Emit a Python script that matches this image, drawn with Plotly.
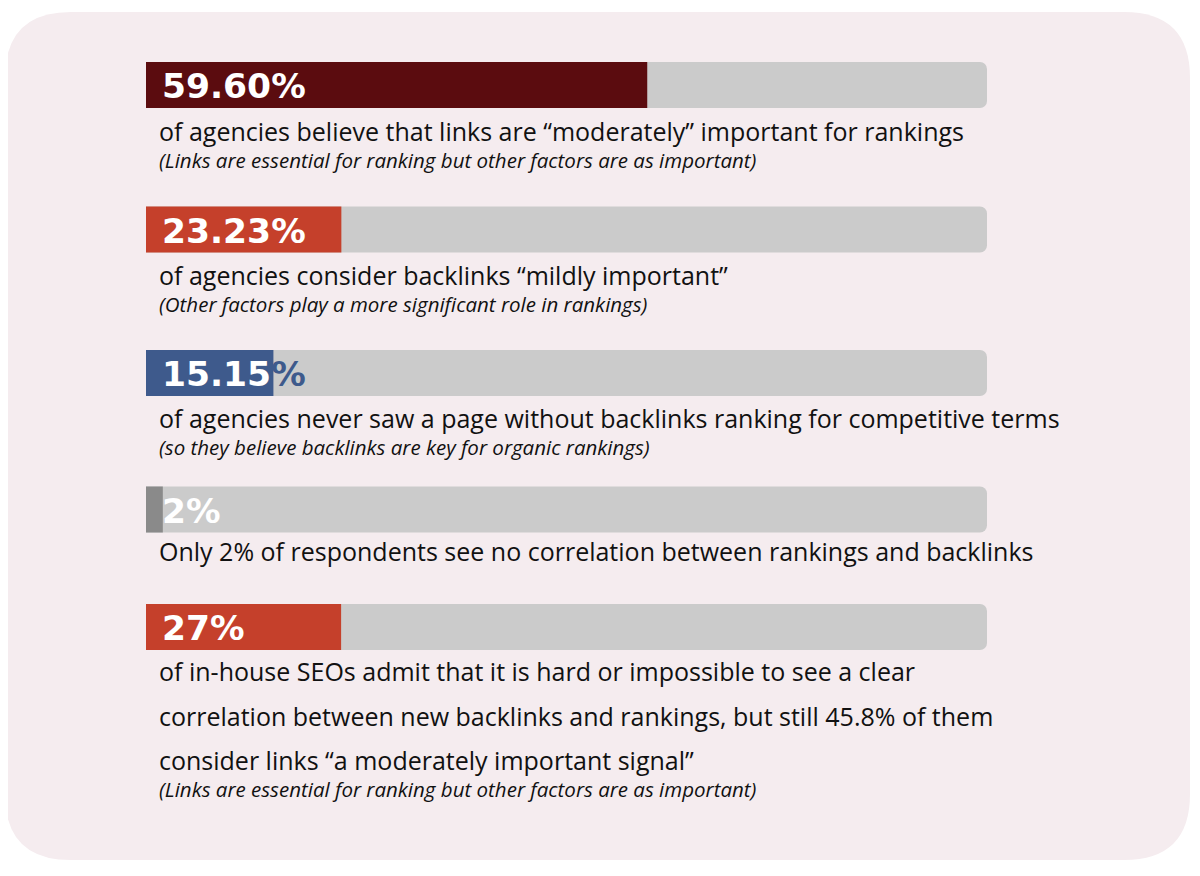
import plotly.graph_objects as go

# ---- data ----
pct_labels = ["59.60%", "23.23%", "15.15%", "2%", "27%"]
bar_fill = [59.60, 23.23, 15.15, 2.0, 23.2]   # drawn fill length
track_max = [100, 100, 100, 100, 100]
descriptions = [
    ["of agencies believe that links are \u201cmoderately\u201d important for rankings"],
    ["of agencies consider backlinks \u201cmildly important\u201d"],
    ["of agencies never saw a page without backlinks ranking for competitive terms"],
    ["Only 2% of respondents see no correlation between rankings and backlinks"],
    ["of in-house SEOs admit that it is hard or impossible to see a clear",
     "correlation between new backlinks and rankings, but still 45.8% of them",
     "consider links \u201ca moderately important signal\u201d"],
]
notes = [
    "(Links are essential for ranking but other factors are as important)",
    "(Other factors play a more significant role in rankings)",
    "(so they believe backlinks are key for organic rankings)",
    None,
    "(Links are essential for ranking but other factors are as important)",
]

# ---- style / layout ----
W, H = 1200, 876
OFF = 8  # page body margin
X0, X100 = 146, 987
PX = (X100 - X0) / 100.0
bar_colors = ["#5b0c0f", "#c5402b", "#3e5a8c", "#8a8a8a", "#c5402b"]
track_color = "#cbcbcb"
card_color = "#f5ecef"
bar_y = [85, 229.5, 373, 509.5, 627]
bar_h = 46
desc_y0 = [131, 275, 418, 551, 671]
line_gap = 44.5
FONT = "Open Sans"
PFONT = "DejaVu Sans"


def px2x(p):
    return (p - X0) / PX


fig = go.Figure()
fig.add_trace(go.Bar(
    y=bar_y, x=track_max, orientation="h", width=bar_h,
    marker=dict(color=track_color, line=dict(width=0)), hoverinfo="skip",
))
fig.add_trace(go.Bar(
    y=bar_y, x=bar_fill, orientation="h", width=bar_h,
    marker=dict(color=bar_colors, line=dict(width=0)), hoverinfo="skip",
))

ann = []
for i, lab in enumerate(pct_labels):
    text = lab
    if i == 2:
        text = lab[:-1] + "<span style='color:%s'>%%</span>" % bar_colors[2]
    ann.append(dict(x=px2x(160), y=bar_y[i] + 1, text="<b>%s</b>" % text,
                    xanchor="left", yanchor="middle", showarrow=False,
                    font=dict(family=PFONT, size=34.5, color="white")))
    y = desc_y0[i]
    for line in descriptions[i]:
        ann.append(dict(x=px2x(157), y=y, text=line, xanchor="left", yanchor="middle",
                        showarrow=False, font=dict(family=FONT, size=25, color="#111111")))
        y += line_gap
    if notes[i]:
        ny = y - line_gap + 29
        ann.append(dict(x=px2x(157), y=ny, text="<i>%s</i>" % notes[i], xanchor="left",
                        yanchor="middle", showarrow=False,
                        font=dict(family=FONT, size=20.5, color="#111111")))

# rounded card background
cx0, cx1, cy0, cy1, r = 5, 1190, 12, 860, 66
path = (f"M {px2x(cx0 + r)},{cy0} L {px2x(cx1 - r)},{cy0} Q {px2x(cx1)},{cy0} {px2x(cx1)},{cy0 + r} "
        f"L {px2x(cx1)},{cy1 - r} Q {px2x(cx1)},{cy1} {px2x(cx1 - r)},{cy1} "
        f"L {px2x(cx0 + r)},{cy1} Q {px2x(cx0)},{cy1} {px2x(cx0)},{cy1 - r} "
        f"L {px2x(cx0)},{cy0 + r} Q {px2x(cx0)},{cy0} {px2x(cx0 + r)},{cy0} Z")

fig.update_layout(
    width=W - OFF, height=H - OFF,
    margin=dict(l=0, r=0, t=0, b=0),
    paper_bgcolor="white", plot_bgcolor="rgba(0,0,0,0)",
    barmode="overlay", barcornerradius=7,
    showlegend=False,
    xaxis=dict(range=[px2x(OFF), px2x(W)], visible=False, fixedrange=True),
    yaxis=dict(range=[H, OFF], visible=False, fixedrange=True),
    shapes=[dict(type="path", path=path, xref="x", yref="y", fillcolor=card_color,
                 line=dict(width=0), layer="below")],
    annotations=ann,
)

fig.write_html("out.html", config={"displayModeBar": False})
